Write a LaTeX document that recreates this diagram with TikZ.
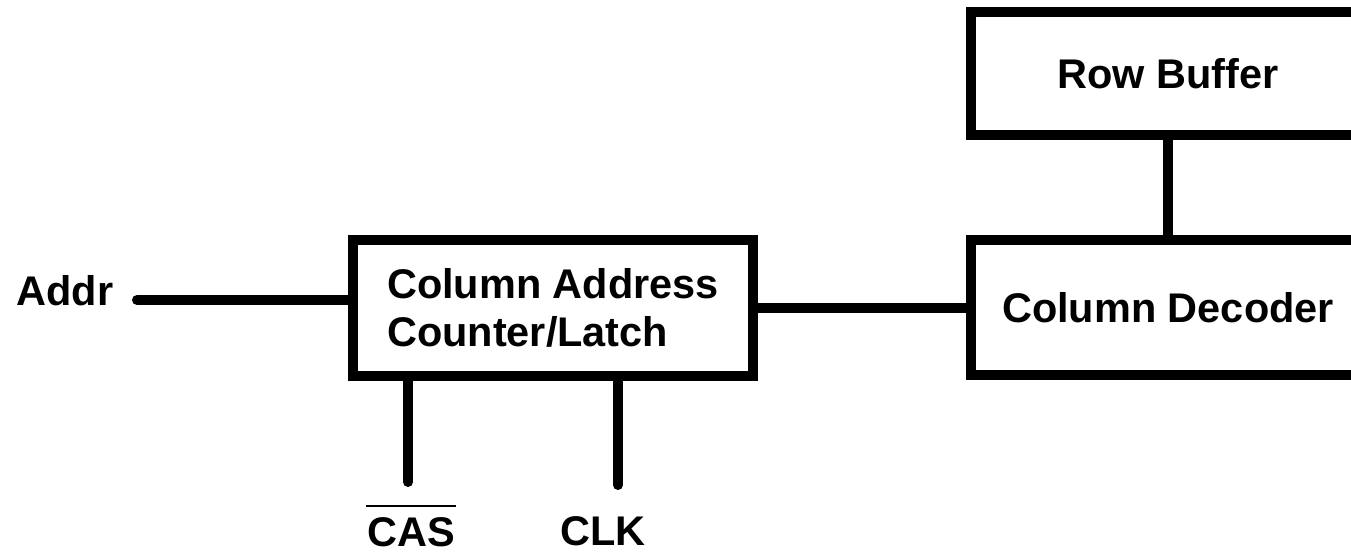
\documentclass[tikz,border=0pt]{standalone}
\usepackage{fontspec}
\setmainfont{Liberation Sans}

\begin{document}
\begin{tikzpicture}[x=0.02cm, y=-0.02cm,
    font=\bfseries\fontsize{23.6}{27.2}\selectfont,
    blk/.style={draw, line width=0.2cm, inner sep=0pt},
    wire/.style={line width=0.2cm, line cap=round}]
    \useasboundingbox (0,0) rectangle (1351,554);
    \clip (0,0) rectangle (1351,554);

    \node[blk, minimum width=8cm, minimum height=2.74cm, align=left] (cal) at (553,308) {Column Address\\Counter/Latch};
    \node[blk, minimum width=7.9cm, minimum height=2.46cm] (rowbuf) at (1168,73.5) {Row Buffer};
    \node[blk, minimum width=7.9cm, minimum height=2.7cm] (dec) at (1168,307.5) {Column Decoder};

    \node (addr) at (65,291) {Addr};
    \node[inner xsep=0.5pt, inner ysep=6pt] (cas) at (411,532) {CAS};
    \node[inner sep=1pt] (clk) at (603,531) {CLK};

    \coordinate (addrin) at (137,300);
    \coordinate (casend) at (408,482);
    \coordinate (clkend) at (618,485);

    \draw[wire] (addrin) -- (addrin -| cal.west);
    \draw[wire] (cal.east) -- (cal.east -| dec.west);
    \draw[wire] (rowbuf.south) -- (dec.north);
    \draw[wire] (casend |- cal.south) -- (casend);
    \draw[wire] (clkend |- cal.south) -- (clkend);
    \draw[line width=0.04cm] (cas.north west) -- (cas.north east);
\end{tikzpicture}
\end{document}
